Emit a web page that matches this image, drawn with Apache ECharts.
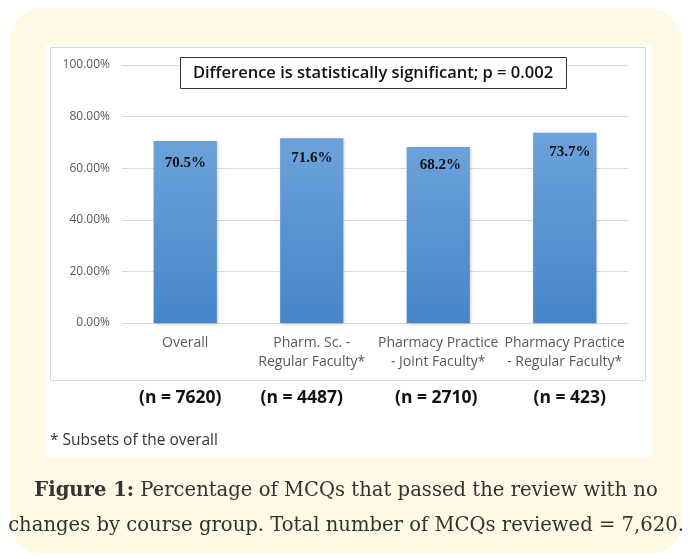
<!DOCTYPE html>
<html>
<head>
<meta charset="utf-8">
<script src="https://cdn.jsdelivr.net/npm/echarts@6/dist/echarts.min.js"></script>
<style>
html,body{margin:0;padding:0;background:#ffffff;}
#chart{width:690px;height:559px;}
</style>
</head>
<body>
<div id="chart"></div>
<script>
const categories = ['Overall', 'Pharm. Sc. -\nRegular Faculty*', 'Pharmacy Practice\n- Joint Faculty*', 'Pharmacy Practice\n- Regular Faculty*'];
const values = [70.5, 71.6, 68.2, 73.7];
const nLabels = ['(n = 7620)', '(n = 4487)', '(n = 2710)', '(n = 423)'];
const yTicks = [0, 20, 40, 60, 80, 100];
const annotation = 'Difference is statistically significant; p = 0.002';
const footnote = '* Subsets of the overall';
const captionBold = 'Figure 1:';
const captionLine1 = ' Percentage of MCQs that passed the review with no';
const captionLine2 = 'changes by course group. Total number of MCQs reviewed = 7,620.';

const labelOffsets = [[0, 3], [0, 0], [2, -1], [5, 0]];
const nPads = [[0, 10, 0, 0], [0, 20, 0, 0], [0, 4, 0, 0], [0, 0, 0, 10]];

const chart = echarts.init(document.getElementById('chart'), null, {renderer: 'canvas'});
const sans = "'Open Sans', 'Liberation Sans', sans-serif";
const serif = "'DejaVu Serif', serif";

chart.setOption({
  animation: false,
  grid: {left: 122, right: 62, top: 65, bottom: 236, containLabel: false},
  xAxis: [{
    type: 'category',
    data: categories,
    axisLine: {show: false},
    axisTick: {show: false},
    axisLabel: {interval: 0, color: '#595959', fontFamily: sans, fontSize: 14, lineHeight: 19, margin: 11},
    z: 3
  }, {
    type: 'category',
    position: 'bottom',
    data: nLabels.map((v, i) => ({value: v, textStyle: {padding: nPads[i]}})),
    axisLine: {show: false},
    axisTick: {show: false},
    axisLabel: {interval: 0, color: '#111', fontFamily: sans, fontSize: 17.5, fontWeight: 'bold', margin: 66},
    z: 3
  }],
  yAxis: {
    type: 'value',
    min: yTicks[0],
    max: yTicks[yTicks.length - 1],
    interval: 20,
    axisLine: {show: false},
    axisTick: {show: false},
    splitLine: {lineStyle: {color: '#d9d9d9', width: 1}},
    axisLabel: {color: '#595959', fontFamily: sans, fontSize: 12, margin: 12, formatter: v => v.toFixed(2) + '%'},
    z: 3
  },
  series: [{
    type: 'bar',
    barWidth: '50%',
    z: 4,
    data: values.map((v, i) => ({
      value: v,
      label: {offset: labelOffsets[i]}
    })),
    itemStyle: {
      color: new echarts.graphic.LinearGradient(0, 0, 0, 1, [
        {offset: 0, color: '#6ca2db'},
        {offset: 1, color: '#4586c9'}
      ]),
      shadowColor: 'rgba(0,0,0,0.25)',
      shadowBlur: 3,
      shadowOffsetX: 1,
      shadowOffsetY: 1
    },
    label: {
      show: true,
      position: 'insideTop',
      distance: 12,
      formatter: p => p.value.toFixed(1) + '%',
      fontFamily: "'Liberation Serif', 'Times New Roman', serif",
      fontWeight: 'bold',
      fontSize: 15,
      color: '#111'
    }
  }],
  graphic: [
    {type: 'rect', z: -10, silent: true, shape: {x: 10, y: 8, width: 672, height: 546, r: 32}, style: {fill: '#fffae6'}},
    {type: 'rect', z: -9, silent: true, shape: {x: 46, y: 45, width: 606, height: 412}, style: {fill: '#ffffff'}},
    {type: 'rect', z: -8, silent: true, shape: {x: 50.5, y: 47.5, width: 595, height: 333}, style: {fill: 'none', stroke: '#d9d9d9', lineWidth: 1}},
    {type: 'rect', z: 10, silent: true, shape: {x: 180.5, y: 57.5, width: 386, height: 31}, style: {fill: '#ffffff', stroke: '#333333', lineWidth: 1}},
    {type: 'text', z: 11, silent: true, x: 373, y: 73, style: {text: annotation, fill: '#111', font: "600 16.5px " + sans, align: 'center', verticalAlign: 'middle'}},
    {type: 'text', z: 11, silent: true, x: 50, y: 441, style: {text: footnote, fill: '#333', font: "15.5px " + sans, align: 'left', verticalAlign: 'middle'}},
    {type: 'text', z: 11, silent: true, x: 346, y: 491, style: {
      text: '{b|' + captionBold + '}' + captionLine1,
      fill: '#333', font: "19.6px " + serif, align: 'center', verticalAlign: 'middle',
      rich: {b: {fontWeight: 'bold', fontSize: 19.6, fontFamily: serif, fill: '#333'}}
    }},
    {type: 'text', z: 11, silent: true, x: 346, y: 526, style: {text: captionLine2, fill: '#333', font: "19.6px " + serif, align: 'center', verticalAlign: 'middle'}}
  ]
});
</script>
</body>
</html>
